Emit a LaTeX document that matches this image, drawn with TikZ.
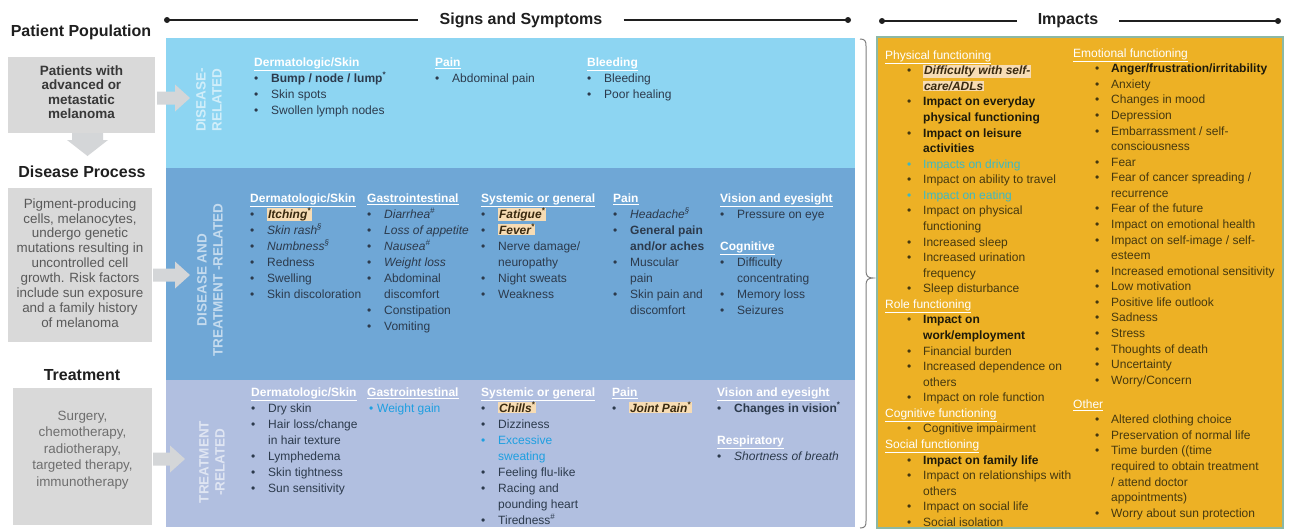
\documentclass[tikz,border=0pt]{standalone}
\usepackage{fontspec}
\setmainfont{Liberation Sans}
\usepackage{xcolor}
\definecolor{bandA}{HTML}{8DD5F2}
\definecolor{bandB}{HTML}{6FA7D6}
\definecolor{bandC}{HTML}{B1BFE0}
\definecolor{boxgray}{HTML}{D9D9D9}
\definecolor{arrgray}{HTML}{D4D6D8}
\definecolor{gold}{HTML}{EDB125}
\definecolor{goldline}{HTML}{8CB8A4}
\definecolor{bandtxt}{HTML}{2C3A4C}
\definecolor{imptxt}{HTML}{45380F}
\definecolor{impbold}{HTML}{1E1A0A}
\definecolor{hlc}{HTML}{F7DCB4}
\definecolor{hltxt}{HTML}{3A2A10}
\definecolor{cyanb}{HTML}{1E9FE0}
\definecolor{tealt}{HTML}{3DB8C4}
\definecolor{darkhd}{HTML}{1F1F1F}
\definecolor{bracec}{HTML}{7F7F7F}
\newcommand\LS{\rule[-4pt]{0pt}{14pt}}
\newcommand\hd[1]{\LS\textbf{\textcolor{white}{\underline{#1}}}}
\newcommand\bi[1]{\LS\makebox[17pt][l]{\textbullet}#1}
\newcommand\ci[1]{\LS\hspace*{17pt}#1}
\newcommand\hl[1]{{\setlength\fboxsep{0.8pt}\colorbox{hlc}{\textcolor{hltxt}{\textbf{\textit{#1}}}}}}
\newcommand\sps[1]{\textsuperscript{#1}}
\newcommand\ihd[1]{\LS\textcolor{white}{\underline{#1}}}
\newcommand\ibi[1]{\LS\hspace*{22pt}\makebox[16pt][l]{\textbullet}#1}
\newcommand\ici[1]{\LS\hspace*{38pt}#1}
\newcommand\bfi[1]{\textcolor{impbold}{\textbf{#1}}}
\tikzset{
  col/.style={inner sep=0pt, anchor=north west, align=left, text=bandtxt, font=\fontsize{12}{16}\selectfont},
  icol/.style={inner sep=0pt, anchor=north west, align=left, text=imptxt, font=\fontsize{12}{15.57}\selectfont},
  vlab/.style={rotate=90, align=center, text=white, text opacity=0.6, font=\bfseries\fontsize{13.5}{16}\selectfont, inner sep=0pt},
  hdg/.style={font=\bfseries\fontsize{16}{18}\selectfont, text=darkhd, inner sep=0pt},
  lbox/.style={fill=boxgray, inner sep=0pt, draw=none},
  larr/.style={fill=arrgray, draw=none},
  ttl/.style={font=\bfseries\fontsize{16}{18}\selectfont, text=darkhd, inner ysep=0pt, inner xsep=21pt},
  hline/.style={line width=1.3pt, draw=darkhd},
}
\begin{document}
\begin{tikzpicture}[x=1pt,y=-1pt]
\useasboundingbox (0,0) rectangle (1293,530);
\fill[white] (0,0) rectangle (1293,530);

% ---------- left column ----------
\node[hdg] (pp) at (81,32) {Patient Population};
\node[lbox, minimum width=147pt, minimum height=76pt] (b1) at (81.5,95) {};
\node[align=center, inner sep=0pt, text=black!78, font=\bfseries\fontsize{13.5}{14.5}\selectfont] (t1) at (81.5,92) {Patients with\\advanced or\\metastatic\\melanoma};
\fill[larr] (72,133) -- (103,133) -- (103,140) -- (108,140) -- (87.5,156) -- (67,140) -- (72,140) -- cycle;
\node[hdg] (dp) at (82,172) {Disease Process};
\node[lbox, minimum width=144pt, minimum height=154pt] (b2) at (80,265) {};
\node[align=center, inner sep=0pt, text=black!65, font=\fontsize{13.4}{14.9}\selectfont] (t2) at (80,263) {Pigment-producing\\cells, melanocytes,\\undergo genetic\\mutations resulting in\\uncontrolled cell\\growth. Risk factors\\include sun exposure\\and a family history\\of melanoma};
\node[hdg] (tr) at (82,375) {Treatment};
\node[lbox, minimum width=139pt, minimum height=137pt] (b3) at (82.5,456.5) {};
\node[align=center, inner sep=0pt, text=black!57, font=\fontsize{13.4}{16.4}\selectfont] (t3) at (82.5,450) {Surgery,\\chemotherapy,\\radiotherapy,\\targeted therapy,\\immunotherapy};

% ---------- headers ----------
\node[ttl] (ss) at (521,20) {Signs and Symptoms};
\coordinate (ssL) at (167,20);
\coordinate (ssR) at (848,20);
\draw[hline] (ssL) -- (ss.west);
\draw[hline] (ss.east) -- (ssR);
\fill[darkhd] (ssL) circle (3pt);
\fill[darkhd] (ssR) circle (3pt);
\node[ttl] (im) at (1068,21) {Impacts};
\coordinate (imL) at (882,21);
\coordinate (imR) at (1278,21);
\draw[hline] (imL) -- (im.west);
\draw[hline] (im.east) -- (imR);
\fill[darkhd] (imL) circle (3pt);
\fill[darkhd] (imR) circle (3pt);

% ---------- bands ----------
\fill[bandA] (166,38) rectangle (855,168);
\fill[bandB] (166,168) rectangle (855,380);
\fill[bandC] (166,380) rectangle (855,527);

% arrows into bands
\fill[larr] (157,91.5) -- (175,91.5) -- (175,84.5) -- (190,98) -- (175,111.5) -- (175,104.5) -- (157,104.5) -- cycle;
\fill[larr] (153,268.5) -- (175,268.5) -- (175,261.5) -- (190,275) -- (175,288.5) -- (175,281.5) -- (153,281.5) -- cycle;
\fill[larr] (153,452.5) -- (170,452.5) -- (170,445.5) -- (185,459) -- (170,472.5) -- (170,465.5) -- (153,465.5) -- cycle;

\node[vlab] (vA) at (209,100) {DISEASE-\\RELATED};
\node[vlab] (vB) at (210,280) {DISEASE AND\\TREATMENT -RELATED};
\node[vlab] (vC) at (212,462) {TREATMENT\\-RELATED};

% top band
\node[col] (T1) at (254,56) {\hd{Dermatologic/Skin}\\\bi{\textbf{Bump / node / lump\sps{*}}}\\\bi{Skin spots}\\\bi{Swollen lymph nodes}};
\node[col] (T2) at (435,56) {\hd{Pain}\\\bi{Abdominal pain}};
\node[col] (T3) at (587,56) {\hd{Bleeding}\\\bi{Bleeding}\\\bi{Poor healing}};

% middle band
\node[col] (M1) at (250,192) {\hd{Dermatologic/Skin}\\\bi{\hl{Itching\sps{*}}}\\\bi{\textit{Skin rash\sps{§}}}\\\bi{\textit{Numbness\sps{§}}}\\\bi{Redness}\\\bi{Swelling}\\\bi{Skin discoloration}};
\node[col] (M2) at (367,192) {\hd{Gastrointestinal}\\\bi{\textit{Diarrhea\sps{\#}}}\\\bi{\textit{Loss of appetite}}\\\bi{\textit{Nausea\sps{\#}}}\\\bi{\textit{Weight loss}}\\\bi{Abdominal}\\\ci{discomfort}\\\bi{Constipation}\\\bi{Vomiting}};
\node[col] (M3) at (481,192) {\hd{Systemic or general}\\\bi{\hl{Fatigue\sps{*}}}\\\bi{\hl{Fever\sps{*}}}\\\bi{Nerve damage/}\\\ci{neuropathy}\\\bi{Night sweats}\\\bi{Weakness}};
\node[col] (M4) at (613,192) {\hd{Pain}\\\bi{\textit{Headache\sps{§}}}\\\bi{\textbf{General pain}}\\\ci{\textbf{and/or aches}}\\\bi{Muscular}\\\ci{pain}\\\bi{Skin pain and}\\\ci{discomfort}};
\node[col] (M5) at (720,192) {\hd{Vision and eyesight}\\\bi{Pressure on eye}\\\LS\\\hd{Cognitive}\\\bi{Difficulty}\\\ci{concentrating}\\\bi{Memory loss}\\\bi{Seizures}};

% bottom band
\node[col] (B1) at (251,386) {\hd{Dermatologic/Skin}\\\bi{Dry skin}\\\bi{Hair loss/change}\\\ci{in hair texture}\\\bi{Lymphedema}\\\bi{Skin tightness}\\\bi{Sun sensitivity}};
\node[col] (B2) at (367,386) {\hd{Gastrointestinal}\\\textcolor{cyanb}{\LS\hspace*{2pt}\makebox[8pt][l]{\textbullet}Weight gain}};
\node[col] (B3) at (481,386) {\hd{Systemic or general}\\\bi{\hl{Chills\sps{*}}}\\\bi{Dizziness}\\\textcolor{cyanb}{\bi{Excessive}}\\\textcolor{cyanb}{\ci{sweating}}\\\bi{Feeling flu-like}\\\bi{Racing and}\\\ci{pounding heart}\\\bi{Tiredness\sps{\#}}};
\node[col] (B4) at (612,386) {\hd{Pain}\\\bi{\hl{Joint Pain\sps{*}}}};
\node[col] (B5) at (717,386) {\hd{Vision and eyesight}\\\bi{\textbf{Changes in vision\sps{*}}}\\\LS\\\hd{Respiratory}\\\bi{\textit{Shortness of breath}}};

% brace
\draw[bracec, line width=1pt] (860,39) .. controls (865,39) and (866,41) .. (866,46) -- (866,271) .. controls (866,276) and (868,278) .. (873,278) .. controls (868,278) and (866,280) .. (866,285) -- (866,521) .. controls (866,526) and (865,528) .. (860,528);

% ---------- impacts ----------
\draw[draw=goldline, line width=1.3pt, fill=gold] (877,37) rectangle (1283,528);
\node[icol] (I1) at (885,49) {\ihd{Physical functioning}\\
\ibi{\hl{Difficulty with self-}}\\
\ici{\hl{care/ADLs}}\\
\ibi{\bfi{Impact on everyday}}\\
\ici{\bfi{physical functioning}}\\
\ibi{\bfi{Impact on leisure}}\\
\ici{\bfi{activities}}\\
\textcolor{tealt}{\ibi{Impacts on driving}}\\
\ibi{Impact on ability to travel}\\
\textcolor{tealt}{\ibi{Impact on eating}}\\
\ibi{Impact on physical}\\
\ici{functioning}\\
\ibi{Increased sleep}\\
\ibi{Increased urination}\\
\ici{frequency}\\
\ibi{Sleep disturbance}\\
\ihd{Role functioning}\\
\ibi{\bfi{Impact on}}\\
\ici{\bfi{work/employment}}\\
\ibi{Financial burden}\\
\ibi{Increased dependence on}\\
\ici{others}\\
\ibi{Impact on role function}\\
\ihd{Cognitive functioning}\\
\ibi{Cognitive impairment}\\
\ihd{Social functioning}\\
\ibi{\bfi{Impact on family life}}\\
\ibi{Impact on relationships with}\\
\ici{others}\\
\ibi{Impact on social life}\\
\ibi{Social isolation}};
\node[icol] (I2) at (1073,47) {\ihd{Emotional functioning}\\
\ibi{\bfi{Anger/frustration/irritability}}\\
\ibi{Anxiety}\\
\ibi{Changes in mood}\\
\ibi{Depression}\\
\ibi{Embarrassment / self-}\\
\ici{consciousness}\\
\ibi{Fear}\\
\ibi{Fear of cancer spreading /}\\
\ici{recurrence}\\
\ibi{Fear of the future}\\
\ibi{Impact on emotional health}\\
\ibi{Impact on self-image / self-}\\
\ici{esteem}\\
\ibi{Increased emotional sensitivity}\\
\ibi{Low motivation}\\
\ibi{Positive life outlook}\\
\ibi{Sadness}\\
\ibi{Stress}\\
\ibi{Thoughts of death}\\
\ibi{Uncertainty}\\
\ibi{Worry/Concern}};
\node[icol] (I3) at (1073,398) {\ihd{Other}\\
\ibi{Altered clothing choice}\\
\ibi{Preservation of normal life}\\
\ibi{Time burden ((time}\\
\ici{required to obtain treatment}\\
\ici{/ attend doctor}\\
\ici{appointments)}\\
\ibi{Worry about sun protection}};
\end{tikzpicture}
\end{document}
